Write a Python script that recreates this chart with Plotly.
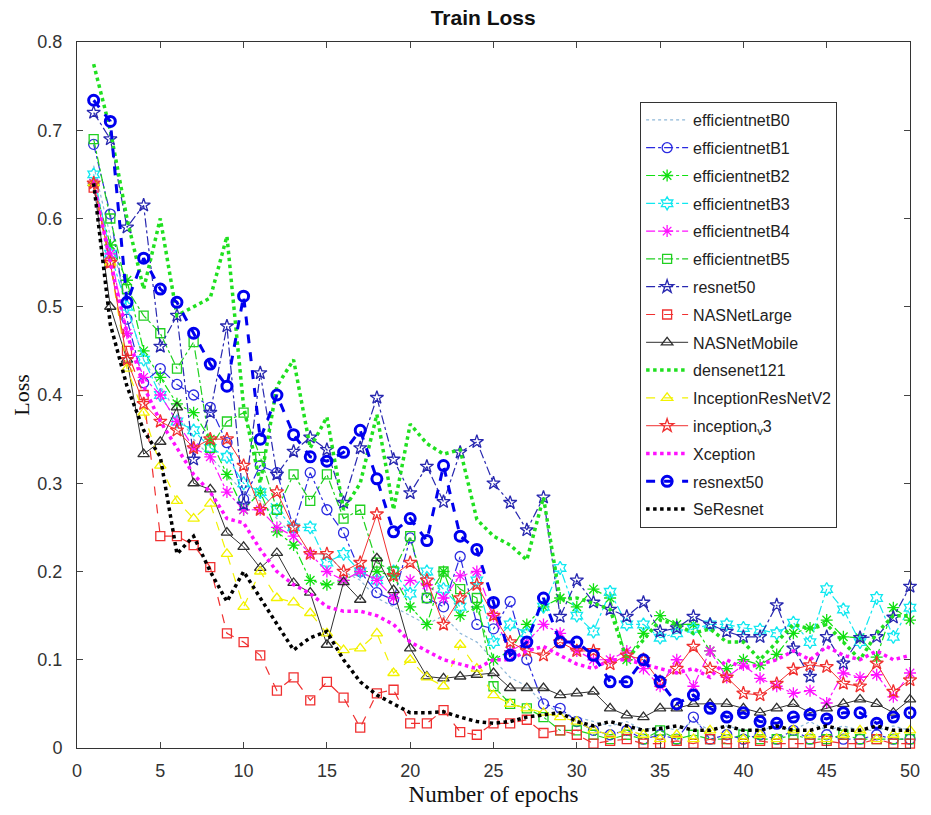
import plotly.graph_objects as go

epochs = list(range(1, 51))

effB0 = [0.66, 0.58, 0.50, 0.44, 0.41, 0.38, 0.35, 0.33, 0.31, 0.29,
         0.28, 0.26, 0.24, 0.22, 0.22, 0.20, 0.19, 0.17, 0.16, 0.15,
         0.14, 0.15, 0.13, 0.12, 0.10, 0.08, 0.07, 0.05, 0.04, 0.035,
         0.03, 0.025, 0.03, 0.02, 0.025, 0.02, 0.03, 0.02, 0.025, 0.02,
         0.02, 0.025, 0.02, 0.03, 0.02, 0.025, 0.02, 0.02, 0.025, 0.02]
effB1 = [0.684, 0.605, 0.486, 0.414, 0.43, 0.412, 0.40, 0.386, 0.346, 0.282,
         0.32, 0.312, 0.25, 0.312, 0.27, 0.244, 0.20, 0.176, 0.168, 0.238,
         0.17, 0.16, 0.217, 0.14, 0.135, 0.166, 0.10, 0.05, 0.045, 0.03,
         0.02, 0.015, 0.02, 0.01, 0.015, 0.01, 0.035, 0.01, 0.015, 0.01,
         0.015, 0.01, 0.02, 0.01, 0.015, 0.01, 0.01, 0.015, 0.01, 0.01]
effB2 = [0.64, 0.57, 0.53, 0.45, 0.42, 0.39, 0.38, 0.35, 0.31, 0.27,
         0.29, 0.245, 0.23, 0.19, 0.185, 0.19, 0.20, 0.20, 0.195, 0.16,
         0.14, 0.20, 0.15, 0.16, 0.10, 0.11, 0.14, 0.16, 0.17, 0.16,
         0.18, 0.17, 0.10, 0.13, 0.15, 0.14, 0.14, 0.11, 0.09, 0.10,
         0.094, 0.106, 0.13, 0.136, 0.145, 0.126, 0.125, 0.103, 0.159, 0.145]
effB3 = [0.65, 0.56, 0.50, 0.44, 0.40, 0.37, 0.36, 0.34, 0.33, 0.30,
         0.29, 0.27, 0.25, 0.25, 0.21, 0.22, 0.20, 0.19, 0.20, 0.175,
         0.20, 0.18, 0.16, 0.19, 0.12, 0.14, 0.13, 0.16, 0.204, 0.15,
         0.132, 0.177, 0.14, 0.14, 0.125, 0.13, 0.135, 0.14, 0.14, 0.136,
         0.134, 0.13, 0.142, 0.12, 0.18, 0.157, 0.12, 0.17, 0.126, 0.159]
effB4 = [0.64, 0.56, 0.47, 0.42, 0.40, 0.37, 0.34, 0.33, 0.29, 0.27,
         0.27, 0.25, 0.24, 0.22, 0.20, 0.19, 0.20, 0.19, 0.17, 0.19,
         0.185, 0.17, 0.195, 0.20, 0.15, 0.11, 0.12, 0.14, 0.13, 0.11,
         0.10, 0.10, 0.11, 0.09, 0.07, 0.10, 0.07, 0.11, 0.08, 0.094,
         0.079, 0.07, 0.062, 0.065, 0.051, 0.085, 0.08, 0.083, 0.058, 0.085]
effB5 = [0.69, 0.60, 0.52, 0.49, 0.47, 0.43, 0.46, 0.34, 0.37, 0.38,
         0.33, 0.27, 0.31, 0.28, 0.31, 0.26, 0.27, 0.21, 0.20, 0.24,
         0.17, 0.20, 0.18, 0.17, 0.07, 0.05, 0.045, 0.035, 0.02, 0.02,
         0.015, 0.01, 0.015, 0.01, 0.02, 0.01, 0.015, 0.01, 0.01, 0.015,
         0.01, 0.01, 0.015, 0.01, 0.01, 0.015, 0.01, 0.01, 0.01, 0.01]
resnet50 = [0.72, 0.69, 0.59, 0.615, 0.455, 0.49, 0.327, 0.38, 0.478, 0.276,
            0.425, 0.31, 0.336, 0.352, 0.338, 0.278, 0.34, 0.397, 0.327, 0.289,
            0.319, 0.279, 0.335, 0.347, 0.30, 0.278, 0.247, 0.284, 0.149, 0.19,
            0.165, 0.157, 0.149, 0.165, 0.132, 0.136, 0.149, 0.14, 0.132, 0.126,
            0.126, 0.162, 0.113, 0.081, 0.126, 0.096, 0.125, 0.126, 0.148, 0.183]
nasLarge = [0.635, 0.55, 0.45, 0.40, 0.24, 0.24, 0.23, 0.205, 0.13, 0.12,
            0.105, 0.065, 0.08, 0.054, 0.075, 0.057, 0.023, 0.062, 0.066, 0.028,
            0.028, 0.043, 0.018, 0.015, 0.028, 0.028, 0.032, 0.017, 0.02, 0.015,
            0.005, 0.008, 0.01, 0.005, 0.005, 0.008, 0.005, 0.01, 0.005, 0.005,
            0.008, 0.005, 0.005, 0.005, 0.008, 0.005, 0.005, 0.01, 0.005, 0.005]
nasMobile = [0.64, 0.50, 0.44, 0.333, 0.347, 0.386, 0.30, 0.293, 0.244, 0.228,
             0.204, 0.221, 0.187, 0.176, 0.117, 0.188, 0.168, 0.215, 0.179, 0.113,
             0.081, 0.079, 0.081, 0.083, 0.085, 0.068, 0.068, 0.068, 0.06, 0.062,
             0.064, 0.045, 0.037, 0.035, 0.045, 0.045, 0.05, 0.05, 0.05, 0.045,
             0.04, 0.045, 0.05, 0.04, 0.045, 0.05, 0.055, 0.05, 0.04, 0.055]
densenet121 = [0.775, 0.70, 0.60, 0.52, 0.60, 0.49, 0.50, 0.51, 0.58, 0.387,
               0.30, 0.41, 0.44, 0.34, 0.375, 0.27, 0.30, 0.378, 0.27, 0.367,
               0.345, 0.333, 0.338, 0.259, 0.24, 0.23, 0.213, 0.284, 0.168, 0.17,
               0.164, 0.157, 0.10, 0.123, 0.145, 0.14, 0.13, 0.135, 0.12, 0.12,
               0.10, 0.12, 0.14, 0.135, 0.14, 0.12, 0.10, 0.13, 0.15, 0.15]
incResV2 = [0.64, 0.55, 0.43, 0.38, 0.32, 0.28, 0.26, 0.277, 0.22, 0.16,
            0.20, 0.17, 0.165, 0.153, 0.13, 0.111, 0.113, 0.13, 0.085, 0.10,
            0.08, 0.07, 0.117, 0.09, 0.06, 0.05, 0.045, 0.04, 0.035, 0.03,
            0.02, 0.015, 0.02, 0.015, 0.01, 0.015, 0.01, 0.02, 0.015, 0.01,
            0.015, 0.01, 0.02, 0.015, 0.01, 0.015, 0.02, 0.01, 0.015, 0.02]
inceptionV3 = [0.64, 0.55, 0.44, 0.39, 0.37, 0.36, 0.34, 0.35, 0.35, 0.32,
               0.27, 0.29, 0.25, 0.22, 0.22, 0.20, 0.21, 0.265, 0.195, 0.21,
               0.19, 0.14, 0.17, 0.185, 0.15, 0.12, 0.11, 0.105, 0.12, 0.11,
               0.11, 0.095, 0.105, 0.10, 0.075, 0.09, 0.115, 0.09, 0.08, 0.062,
               0.06, 0.073, 0.089, 0.094, 0.092, 0.073, 0.07, 0.096, 0.064, 0.077]
xception = [0.64, 0.55, 0.47, 0.41, 0.37, 0.34, 0.31, 0.29, 0.26, 0.255,
            0.225, 0.20, 0.185, 0.175, 0.16, 0.155, 0.155, 0.15, 0.14, 0.12,
            0.11, 0.10, 0.095, 0.09, 0.10, 0.10, 0.11, 0.115, 0.105, 0.095,
            0.09, 0.10, 0.10, 0.095, 0.09, 0.085, 0.09, 0.08, 0.10, 0.09,
            0.095, 0.10, 0.11, 0.10, 0.115, 0.105, 0.10, 0.11, 0.10, 0.105]
resnext50 = [0.734, 0.71, 0.505, 0.555, 0.52, 0.505, 0.47, 0.435, 0.41, 0.512,
             0.35, 0.40, 0.355, 0.33, 0.325, 0.335, 0.36, 0.305, 0.245, 0.26,
             0.235, 0.32, 0.24, 0.225, 0.165, 0.105, 0.12, 0.17, 0.12, 0.12,
             0.105, 0.075, 0.075, 0.10, 0.075, 0.05, 0.06, 0.045, 0.035, 0.04,
             0.03, 0.028, 0.035, 0.038, 0.033, 0.04, 0.04, 0.028, 0.035, 0.04]
seresnet = [0.64, 0.48, 0.41, 0.36, 0.33, 0.22, 0.24, 0.20, 0.166, 0.20,
            0.17, 0.14, 0.111, 0.125, 0.132, 0.10, 0.075, 0.06, 0.05, 0.04,
            0.04, 0.041, 0.035, 0.03, 0.028, 0.03, 0.035, 0.038, 0.04, 0.03,
            0.025, 0.03, 0.025, 0.02, 0.022, 0.025, 0.02, 0.02, 0.025, 0.02,
            0.02, 0.025, 0.02, 0.02, 0.025, 0.02, 0.02, 0.025, 0.02, 0.02]

y_ticks = [0, 0.1, 0.2, 0.3, 0.4, 0.5, 0.6, 0.7, 0.8]
y_ticktext = ["0", "0.1", "0.2", "0.3", "0.4", "0.5", "0.6", "0.7", "0.8"]
x_ticks = [0, 5, 10, 15, 20, 25, 30, 35, 40, 45, 50]

# name, data, color, dash, width, marker symbol, marker size, marker line width
series = [
    ("efficientnetB0", effB0, "#8fb8d8", "dot", 1.2, None, 0, 0),
    ("efficientnetB1", effB1, "#2a2ae0", "dashdot", 1.2, "circle-open", 10, 1.3),
    ("efficientnetB2", effB2, "#10e010", "dashdot", 1.2, "asterisk-open", 10, 1.3),
    ("efficientnetB3", effB3, "#10e8f0", "dashdot", 1.2, "hexagram-open", 10, 1.3),
    ("efficientnetB4", effB4, "#ff10ff", "dashdot", 1.2, "asterisk-open", 10, 1.3),
    ("efficientnetB5", effB5, "#20d020", "dashdot", 1.2, "square-open", 9, 1.3),
    ("resnet50", resnet50, "#2828b0", "dashdot", 1.2, "star-open", 10, 1.3),
    ("NASNetLarge", nasLarge, "#f03030", "dash", 1.2, "square-open", 9, 1.3),
    ("NASNetMobile", nasMobile, "#303030", "solid", 1.0, "triangle-up-open", 10, 1.3),
    ("densenet121", densenet121, "#20e020", "dot", 3.5, None, 0, 0),
    ("InceptionResNetV2", incResV2, "#f2f200", "dash", 1.2, "triangle-up-open", 10, 1.3),
    ("inception<sub>v</sub>3", inceptionV3, "#f03030", "solid", 1.0, "star-open", 10, 1.3),
    ("Xception", xception, "#ff10ff", "dot", 3.5, None, 0, 0),
    ("resnext50", resnext50, "#0000ee", "dash", 3.0, "circle-open", 10, 3.0),
    ("SeResnet", seresnet, "#000000", "dot", 3.5, None, 0, 0),
]

SANS = "Liberation Sans, Arial, sans-serif"
SERIF = "Liberation Serif, Times New Roman, serif"

fig = go.Figure()
for i, (name, data, color, dash, width, sym, msize, mlw) in enumerate(series):
    if sym is None:
        mode = "lines"
        marker = None
    else:
        mode = "lines+markers"
        marker = dict(symbol=sym, size=msize, color=color, line=dict(color=color, width=mlw))
    fig.add_trace(go.Scatter(
        x=epochs, y=data, name=name, mode=mode,
        line=dict(color=color, dash=dash, width=width),
        marker=marker, legendgroup="g%d" % i, cliponaxis=False,
    ))

fig.update_layout(
    width=931, height=815,
    margin=dict(l=77, r=21, t=42, b=67),
    paper_bgcolor="white", plot_bgcolor="white",
    font=dict(family=SANS, size=17, color="#222"),
    title=dict(text="<b>Train Loss</b>", x=0.519, xanchor="center", y=0.978, yanchor="middle",
               font=dict(family=SANS, size=21, color="#111")),
    showlegend=True,
    legend=dict(x=0.676, y=0.915, xanchor="left", yanchor="top",
                bgcolor="white", bordercolor="#333", borderwidth=1,
                font=dict(family=SANS, size=16, color="#222"),
                traceorder="grouped", tracegroupgap=4, itemwidth=42),
    xaxis=dict(range=[0, 50], tickvals=x_ticks, ticks="inside", ticklen=6,
               showline=True, linecolor="#333", linewidth=1, mirror="ticks",
               showgrid=False, zeroline=False, ticklabelstandoff=6,
               tickfont=dict(family=SANS, size=18, color="#333"),
               title=dict(text="Number of epochs", standoff=6,
                          font=dict(family=SERIF, size=23, color="#111"))),
    yaxis=dict(range=[0, 0.8], tickvals=y_ticks, ticktext=y_ticktext, ticks="inside", ticklen=6,
               showline=True, linecolor="#333", linewidth=1, mirror="ticks",
               showgrid=False, zeroline=False, ticklabelstandoff=10,
               tickfont=dict(family=SANS, size=18, color="#333"),
               title=dict(text="Loss", standoff=1,
                          font=dict(family=SERIF, size=22, color="#111"))),
)

fig.write_html("out.html")
